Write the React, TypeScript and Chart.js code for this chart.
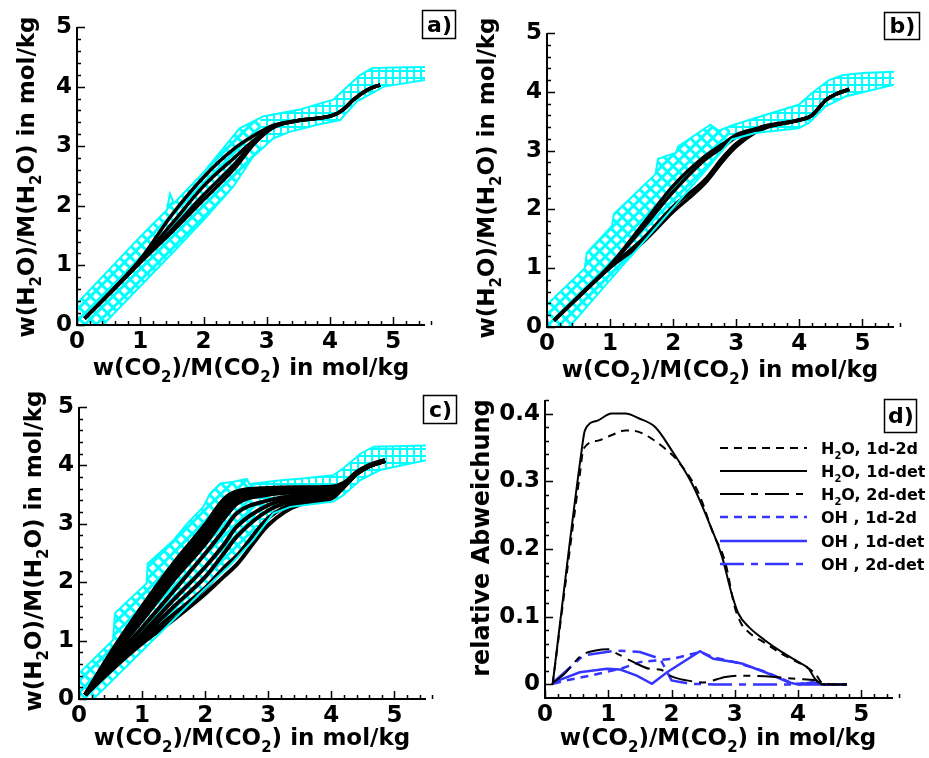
import React, { useEffect, useRef } from 'react';
import { Chart, registerables } from 'chart.js';
Chart.register(...registerables);

const W = 929;
const H = 758;
const FF = '"DejaVu Sans", "Liberation Sans", sans-serif';
const CYAN = '#00ffff';
const BLUE = '#3535ff';

type Part = [string, boolean];

// ---------- tick labels ----------
const XY_MAJOR = [0, 1, 2, 3, 4, 5];
const XY_LABELS = ['0', '1', '2', '3', '4', '5'];
const D_Y_MAJOR = [0, 0.1, 0.2, 0.3, 0.4];
const D_Y_LABELS = ['0', '0.1', '0.2', '0.3', '0.4'];

// ---------- titles / legend ----------
const X_TITLE: Part[] = [['w(CO', false], ['2', true], [')/M(CO', false], ['2', true], [') in mol/kg', false]];
const Y_TITLE: Part[] = [['w(H', false], ['2', true], ['O)/M(H', false], ['2', true], ['O) in mol/kg', false]];
const D_Y_TITLE: Part[] = [['relative Abweichung', false]];
const D_LEGEND: Part[][] = [
  [['H', false], ['2', true], ['O, 1d-2d', false]],
  [['H', false], ['2', true], ['O, 1d-det', false]],
  [['H', false], ['2', true], ['O, 2d-det', false]],
  [['OH , 1d-2d', false]],
  [['OH , 1d-det', false]],
  [['OH , 2d-det', false]],
];

// ---------- panel a ----------
const A_BAND_UP_X = [0, 0.5, 1.0, 1.42, 1.47, 1.53, 2.0, 2.57, 2.94, 3.5, 4.05, 4.21, 4.47, 4.66, 5.0, 5.5];
const A_BAND_UP_Y = [0.36, 0.92, 1.48, 1.93, 2.2, 2.04, 2.56, 3.3, 3.5, 3.61, 3.78, 3.94, 4.19, 4.31, 4.32, 4.33];
const A_BAND_LO_X = [0, 0.41, 1.0, 1.5, 2.0, 2.47, 2.78, 3.1, 3.36, 3.8, 4.16, 4.42, 4.85, 5.5];
const A_BAND_LO_Y = [-0.45, 0, 0.65, 1.2, 1.76, 2.32, 2.82, 3.13, 3.24, 3.36, 3.44, 3.75, 4.0, 4.11];
const A_LINE_X = [0.12, 0.5, 1.0, 1.5, 2.0, 2.5, 2.8, 3.1, 3.5, 4.05, 4.2, 4.37, 4.58, 4.79];
const A_LINE1_Y = [0.11, 0.52, 1.1, 1.85, 2.48, 2.97, 3.18, 3.35, 3.43, 3.52, 3.61, 3.78, 3.94, 4.03];
const A_LINE2_Y = [0.11, 0.52, 1.08, 1.7, 2.33, 2.82, 3.1, 3.33, 3.43, 3.52, 3.61, 3.78, 3.94, 4.03];
const A_LINE3_Y = [0.11, 0.51, 1.06, 1.6, 2.18, 2.71, 3.07, 3.32, 3.43, 3.52, 3.61, 3.78, 3.94, 4.03];
const A_LINE4_Y = [0.11, 0.51, 1.05, 1.56, 2.1, 2.64, 3.04, 3.31, 3.43, 3.52, 3.61, 3.78, 3.94, 4.03];

// ---------- panel b ----------
const B_BAND_UP_X = [0, 0.6, 0.63, 1.03, 1.06, 1.72, 1.76, 2.04, 2.08, 2.59, 2.72, 2.94, 3.47, 3.99, 4.2, 4.47, 4.68, 5.0, 5.5];
const B_BAND_UP_Y = [0.38, 1.0, 1.26, 1.72, 1.92, 2.6, 2.86, 2.96, 3.07, 3.44, 3.34, 3.43, 3.61, 3.78, 3.98, 4.2, 4.28, 4.32, 4.34];
const B_BAND_LO_X = [0, 0.41, 1.0, 1.5, 2.0, 2.43, 2.93, 3.3, 3.99, 4.15, 4.41, 4.73, 5.5];
const B_BAND_LO_Y = [-0.5, 0.07, 0.8, 1.41, 2.03, 2.56, 3.19, 3.3, 3.38, 3.47, 3.75, 3.92, 4.12];
const B_LINE_X = [0.11, 0.5, 1.0, 1.5, 2.0, 2.5, 2.8, 3.0, 3.3, 3.5, 4.0, 4.2, 4.42, 4.6, 4.79];
const B_LINE1_Y = [0.11, 0.52, 1.05, 1.72, 2.4, 2.9, 3.12, 3.27, 3.37, 3.43, 3.52, 3.6, 3.86, 3.97, 4.04];
const B_LINE2_Y = [0.11, 0.52, 1.04, 1.66, 2.3, 2.84, 3.07, 3.23, 3.36, 3.42, 3.52, 3.6, 3.86, 3.97, 4.04];
const B_LINE3_Y = [0.11, 0.51, 1.02, 1.48, 2.05, 2.5, 2.9, 3.12, 3.33, 3.41, 3.52, 3.6, 3.86, 3.97, 4.04];
const B_LINE4_Y = [0.11, 0.51, 1.01, 1.42, 1.96, 2.44, 2.84, 3.07, 3.31, 3.4, 3.52, 3.6, 3.86, 3.97, 4.04];

// ---------- panel c ----------
const C_BAND_UP_X = [0, 0.54, 0.57, 1.07, 1.09, 1.5, 1.71, 1.97, 2.08, 2.24, 2.45, 2.66, 2.7, 3.24, 3.5, 4.03, 4.19, 4.46, 4.67, 5.0, 5.5];
const C_BAND_UP_Y = [0.44, 1.01, 1.47, 1.98, 2.32, 2.72, 3.0, 3.29, 3.52, 3.69, 3.72, 3.77, 3.68, 3.75, 3.77, 3.83, 3.95, 4.2, 4.32, 4.33, 4.34];
const C_BAND_LO_X = [0, 0.23, 1.0, 1.92, 2.4, 2.76, 3.08, 3.35, 4.03, 4.19, 4.46, 4.77, 5.5];
const C_BAND_LO_Y = [-0.25, 0, 0.82, 1.81, 2.3, 2.72, 3.18, 3.29, 3.38, 3.49, 3.75, 3.92, 4.09];
const C_LINE_X = [0.1, 0.5, 1.0, 1.5, 2.0, 2.3, 2.5, 3.0, 3.5, 4.0, 4.2, 4.4, 4.6, 4.85];
const C_LINE1_Y = [0.07, 0.78, 1.58, 2.32, 2.98, 3.42, 3.55, 3.61, 3.62, 3.63, 3.7, 3.88, 4.0, 4.09];
const C_LINE2_Y = [0.07, 0.76, 1.52, 2.25, 2.9, 3.34, 3.5, 3.58, 3.61, 3.62, 3.69, 3.87, 3.99, 4.08];
const C_LINE3_Y = [0.07, 0.73, 1.46, 2.18, 2.82, 3.26, 3.45, 3.56, 3.59, 3.61, 3.68, 3.87, 3.99, 4.08];
const C_LINE4_Y = [0.07, 0.7, 1.4, 2.11, 2.74, 3.18, 3.4, 3.53, 3.57, 3.6, 3.67, 3.86, 3.99, 4.08];
const C_LINE5_Y = [0.07, 0.68, 1.35, 2.04, 2.66, 3.1, 3.35, 3.5, 3.55, 3.59, 3.66, 3.86, 3.99, 4.08];
const C_LINE6_Y = [0.07, 0.62, 1.22, 1.85, 2.49, 2.9, 3.18, 3.4, 3.5, 3.56, 3.66, 3.86, 3.99, 4.08];
const C_LINE7_Y = [0.07, 0.58, 1.12, 1.7, 2.26, 2.65, 2.95, 3.32, 3.47, 3.54, 3.65, 3.86, 3.99, 4.08];
const C_LINE8_Y = [0.07, 0.55, 1.05, 1.58, 2.09, 2.5, 2.78, 3.23, 3.43, 3.51, 3.65, 3.86, 3.99, 4.08];
const C_LINE9_Y = [0.07, 0.5, 1.0, 1.45, 1.9, 2.25, 2.45, 3.1, 3.38, 3.46, 3.64, 3.86, 3.99, 4.08];
const C_LINE10_Y = [0.07, 0.48, 0.95, 1.36, 1.8, 2.1, 2.3, 2.98, 3.33, 3.43, 3.63, 3.86, 3.99, 4.08];

// ---------- panel d ----------
const D_H2O_12_X = [0.12, 0.55, 0.61, 0.84, 1.05, 1.27, 1.48, 1.7, 1.9, 2.1, 2.43, 2.65, 2.85, 3.0, 3.1, 3.22, 3.5, 3.74, 4.11, 4.27, 4.4, 4.77];
const D_H2O_12_Y = [0.0, 0.31, 0.348, 0.36, 0.368, 0.375, 0.373, 0.362, 0.348, 0.33, 0.282, 0.225, 0.18, 0.114, 0.09, 0.077, 0.06, 0.045, 0.027, 0.016, 0.001, 0.0];
const D_H2O_1DET_X = [0.12, 0.58, 0.63, 0.84, 1.05, 1.27, 1.48, 1.74, 2.0, 2.32, 2.58, 2.8, 2.95, 3.06, 3.22, 3.48, 3.74, 4.01, 4.17, 4.27, 4.4, 4.77];
const D_H2O_1DET_Y = [0.0, 0.346, 0.375, 0.39, 0.4, 0.4, 0.393, 0.38, 0.346, 0.297, 0.242, 0.188, 0.134, 0.104, 0.085, 0.065, 0.048, 0.033, 0.023, 0.008, 0.0, 0.0];
const D_H2O_2DET_X = [0.12, 0.3, 0.58, 0.8, 1.0, 1.13, 1.4, 1.66, 1.82, 2.0, 2.24, 2.5, 2.85, 3.1, 3.48, 4.0, 4.27, 4.4, 4.77];
const D_H2O_2DET_Y = [0.002, 0.015, 0.043, 0.05, 0.052, 0.046, 0.033, 0.023, 0.022, 0.012, 0.006, 0.003, 0.011, 0.013, 0.012, 0.008, 0.006, 0.0, 0.0];
const D_OH_12_X = [0.13, 0.34, 0.71, 1.19, 1.5, 1.71, 2.03, 2.45, 2.66, 3.0, 3.48, 3.85, 4.0, 4.22, 4.4, 4.77];
const D_OH_12_Y = [0.001, 0.006, 0.013, 0.023, 0.033, 0.035, 0.038, 0.048, 0.04, 0.033, 0.019, 0.004, 0.001, 0.003, 0.0, 0.0];
const D_OH_1DET_X = [0.13, 0.55, 0.98, 1.19, 1.45, 1.69, 1.93, 2.45, 2.66, 2.98, 3.11, 3.48, 3.85, 4.0, 4.22, 4.4, 4.77];
const D_OH_1DET_Y = [0.003, 0.018, 0.023, 0.022, 0.013, 0.001, 0.018, 0.049, 0.038, 0.033, 0.031, 0.018, 0.003, 0.0, 0.003, 0.0, 0.0];
const D_OH_2DET_X = [0.13, 0.61, 1.13, 1.5, 1.82, 2.0, 2.29, 2.66, 3.5, 4.0, 4.77];
const D_OH_2DET_Y = [0.003, 0.043, 0.05, 0.048, 0.038, 0.006, 0.001, 0.0, 0.0, 0.0, 0.0];

// ---------- helpers ----------
const zip = (xs: number[], ys: number[]) => xs.map((x, i) => ({ x, y: ys[i] }));

function stepTicks(start: number, end: number, step: number) {
  const out: number[] = [];
  const n = Math.round((end - start) / step);
  for (let k = 0; k <= n; k++) out.push(Math.round((start + k * step) * 1e6) / 1e6);
  return out;
}

const near = (a: number, b: number) => Math.abs(a - b) < 1e-6;

function drawRich(ctx: CanvasRenderingContext2D, parts: Part[], x: number, y: number, size: number, rot = false, align: 'center' | 'left' = 'center') {
  ctx.save();
  ctx.translate(x, y);
  if (rot) ctx.rotate(-Math.PI / 2);
  const main = `bold ${size}px ${FF}`;
  const sub = `bold ${Math.round(size * 0.65)}px ${FF}`;
  let total = 0;
  const ws = parts.map(([t, s]) => {
    ctx.font = s ? sub : main;
    const w = ctx.measureText(t).width;
    total += w;
    return w;
  });
  let cx = align === 'center' ? -total / 2 : 0;
  ctx.fillStyle = '#000';
  ctx.textAlign = 'left';
  ctx.textBaseline = 'alphabetic';
  parts.forEach(([t, s], i) => {
    ctx.font = s ? sub : main;
    ctx.fillText(t, cx, s ? size * 0.3 : 0);
    cx += ws[i];
  });
  ctx.restore();
}

function makePattern(ctx: CanvasRenderingContext2D, rotate: boolean) {
  const size = rotate ? 8 : 7;
  const lw = rotate ? 3 : 2;
  const c = document.createElement('canvas');
  c.width = size;
  c.height = size;
  const g = c.getContext('2d')!;
  g.fillStyle = CYAN;
  g.fillRect(0, 0, size, lw);
  g.fillRect(0, 0, lw, size);
  const p = ctx.createPattern(c, 'repeat')!;
  if (rotate) p.setTransform(new DOMMatrix().rotateSelf(45));
  return p;
}

const bandPlugin = {
  id: 'bands',
  beforeDatasetsDraw(chart: any, _a: any, opts: any) {
    const bands = opts.bands || [];
    if (!bands.length) return;
    const ctx: CanvasRenderingContext2D = chart.ctx;
    const ca = chart.chartArea;
    const xs = chart.scales.x;
    const diag = makePattern(ctx, true);
    const sq = makePattern(ctx, false);
    for (const b of bands) {
      const up = chart.getDatasetMeta(b.upper).data;
      const lo = chart.getDatasetMeta(b.lower).data;
      const path = new Path2D();
      up.forEach((p: any, i: number) => (i ? path.lineTo(p.x, p.y) : path.moveTo(p.x, p.y)));
      for (let i = lo.length - 1; i >= 0; i--) path.lineTo(lo[i].x, lo[i].y);
      path.closePath();
      const sx = xs.getPixelForValue(b.split);
      ctx.save();
      ctx.beginPath();
      ctx.rect(ca.left, ca.top, sx - ca.left, ca.bottom - ca.top);
      ctx.clip();
      ctx.fillStyle = diag;
      ctx.fill(path);
      ctx.restore();
      ctx.save();
      ctx.beginPath();
      ctx.rect(sx, ca.top, ca.right - sx, ca.bottom - ca.top);
      ctx.clip();
      ctx.fillStyle = sq;
      ctx.fill(path);
      ctx.restore();
    }
  },
};

const axesPlugin = {
  id: 'axesDraw',
  afterDatasetsDraw(chart: any, _a: any, opts: any) {
    const ctx: CanvasRenderingContext2D = chart.ctx;
    const ca = chart.chartArea;
    const xs = chart.scales.x;
    const ys = chart.scales.y;
    ctx.save();
    ctx.strokeStyle = '#000';
    ctx.lineWidth = 1.5;
    ctx.beginPath();
    for (const t of xs.ticks) {
      const px = Math.round(xs.getPixelForValue(t.value)) + 0.5;
      const len = opts.majorX.some((m: number) => near(m, t.value)) ? 8 : 4;
      ctx.moveTo(px, ca.bottom);
      ctx.lineTo(px, ca.bottom - len);
    }
    for (const t of ys.ticks) {
      const py = Math.round(ys.getPixelForValue(t.value)) + 0.5;
      const len = opts.majorY.some((m: number) => near(m, t.value)) ? 8 : 4;
      ctx.moveTo(ca.left, py);
      ctx.lineTo(ca.left + len, py);
    }
    ctx.stroke();
    ctx.lineWidth = 2;
    ctx.beginPath();
    ctx.moveTo(ca.left, ca.top);
    ctx.lineTo(ca.left, ca.bottom);
    ctx.lineTo(ca.right, ca.bottom);
    ctx.stroke();
    ctx.restore();
  },
};

const textPlugin = {
  id: 'texts',
  afterDraw(chart: any, _a: any, opts: any) {
    const ctx: CanvasRenderingContext2D = chart.ctx;
    for (const t of opts.items || []) drawRich(ctx, t.parts, t.x, t.y, t.size, !!t.rot, t.align || 'center');
    const b = opts.box;
    if (b) {
      ctx.save();
      ctx.fillStyle = '#fff';
      ctx.fillRect(b.x, b.y, b.w, b.h);
      ctx.strokeStyle = '#000';
      ctx.lineWidth = 1.5;
      ctx.strokeRect(b.x + 0.5, b.y + 0.5, b.w, b.h);
      ctx.fillStyle = '#000';
      ctx.font = `bold 22px ${FF}`;
      ctx.textAlign = 'center';
      ctx.textBaseline = 'middle';
      ctx.fillText(b.label, b.x + b.w / 2 + 1, b.y + b.h / 2 + 2);
      ctx.restore();
    }
    const lg = opts.legend;
    if (lg) {
      const ds = chart.data.datasets;
      lg.rows.forEach((y: number, i: number) => {
        const d = ds[i];
        ctx.save();
        ctx.strokeStyle = d.borderColor;
        ctx.lineWidth = d.borderWidth;
        ctx.setLineDash(d.borderDash || []);
        ctx.beginPath();
        ctx.moveTo(lg.x0, y);
        ctx.lineTo(lg.x1, y);
        ctx.stroke();
        ctx.restore();
        drawRich(ctx, D_LEGEND[i], lg.tx, y + 6, 16, false, 'left');
      });
    }
  },
};

interface AxisSpec { min: number; max: number; minor: number; start: number; major: number[]; labels: string[] }
interface PanelSpec {
  area: { L: number; T: number; R: number; B: number };
  x: AxisSpec;
  y: AxisSpec;
  datasets: any[];
  bands: { upper: number; lower: number; split: number }[];
  texts: any[];
  box: any;
  legend?: any;
}

const bandDs = (xs: number[], ys: number[]) => ({
  data: zip(xs, ys), showLine: true, borderColor: CYAN, borderWidth: 2, pointRadius: 0, tension: 0,
});
const blackDs = (xs: number[], ys: number[], width = 3.5) => ({
  data: zip(xs, ys), showLine: true, borderColor: '#000', borderWidth: width, pointRadius: 0, cubicInterpolationMode: 'monotone',
});
const dDs = (xs: number[], ys: number[], color: string, dash: number[], width: number, smooth: boolean) => ({
  data: zip(xs, ys), showLine: true, borderColor: color, borderWidth: width, borderDash: dash, pointRadius: 0,
  ...(smooth ? { cubicInterpolationMode: 'monotone' } : { tension: 0 }),
});

const XY_AXIS_X: AxisSpec = { min: 0, max: 5.5, minor: 0.2, start: 0, major: XY_MAJOR, labels: XY_LABELS };
const XY_AXIS_Y: AxisSpec = { min: 0, max: 5, minor: 0.2, start: 0, major: XY_MAJOR, labels: XY_LABELS };

const DASH = [8, 6];
const DASHDOT = [24, 7, 7, 7];

const PANELS: PanelSpec[] = [
  {
    area: { L: 77, T: 27, R: 425, B: 325 },
    x: XY_AXIS_X, y: XY_AXIS_Y,
    datasets: [
      bandDs(A_BAND_UP_X, A_BAND_UP_Y), bandDs(A_BAND_LO_X, A_BAND_LO_Y),
      blackDs(A_LINE_X, A_LINE4_Y), blackDs(A_LINE_X, A_LINE3_Y), blackDs(A_LINE_X, A_LINE2_Y), blackDs(A_LINE_X, A_LINE1_Y),
    ],
    bands: [{ upper: 0, lower: 1, split: 2.9 }],
    texts: [
      { parts: X_TITLE, x: 251, y: 375, size: 23 },
      { parts: Y_TITLE, x: 34, y: 177, size: 23, rot: true },
    ],
    box: { x: 422, y: 10, w: 33, h: 28, label: 'a)' },
  },
  {
    area: { L: 547, T: 33, R: 894, B: 327 },
    x: XY_AXIS_X, y: XY_AXIS_Y,
    datasets: [
      bandDs(B_BAND_UP_X, B_BAND_UP_Y), bandDs(B_BAND_LO_X, B_BAND_LO_Y),
      blackDs(B_LINE_X, B_LINE4_Y), blackDs(B_LINE_X, B_LINE3_Y), blackDs(B_LINE_X, B_LINE2_Y), blackDs(B_LINE_X, B_LINE1_Y),
    ],
    bands: [{ upper: 0, lower: 1, split: 2.9 }],
    texts: [
      { parts: X_TITLE, x: 720, y: 377, size: 23 },
      { parts: Y_TITLE, x: 494, y: 178, size: 23, rot: true },
    ],
    box: { x: 884, y: 12, w: 35, h: 27, label: 'b)' },
  },
  {
    area: { L: 79, T: 407, R: 426, B: 699 },
    x: XY_AXIS_X, y: XY_AXIS_Y,
    datasets: [
      bandDs(C_BAND_UP_X, C_BAND_UP_Y), bandDs(C_BAND_LO_X, C_BAND_LO_Y),
      blackDs(C_LINE_X, C_LINE10_Y, 4), blackDs(C_LINE_X, C_LINE9_Y, 4), blackDs(C_LINE_X, C_LINE8_Y, 4),
      blackDs(C_LINE_X, C_LINE7_Y, 4), blackDs(C_LINE_X, C_LINE6_Y, 4), blackDs(C_LINE_X, C_LINE5_Y, 4.5),
      blackDs(C_LINE_X, C_LINE4_Y, 4.5), blackDs(C_LINE_X, C_LINE3_Y, 4.5), blackDs(C_LINE_X, C_LINE2_Y, 4.5), blackDs(C_LINE_X, C_LINE1_Y, 4.5),
    ],
    bands: [{ upper: 0, lower: 1, split: 2.8 }],
    texts: [
      { parts: X_TITLE, x: 252, y: 745, size: 23 },
      { parts: Y_TITLE, x: 41, y: 551, size: 23, rot: true },
    ],
    box: { x: 423, y: 395, w: 33, h: 28, label: 'c)' },
  },
  {
    area: { L: 545, T: 400, R: 893, B: 698 },
    x: XY_AXIS_X,
    y: { min: -0.02, max: 0.42, minor: 0.02, start: 0, major: D_Y_MAJOR, labels: D_Y_LABELS },
    datasets: [
      dDs(D_H2O_12_X, D_H2O_12_Y, '#000', DASH, 2, true),
      dDs(D_H2O_1DET_X, D_H2O_1DET_Y, '#000', [], 2, true),
      dDs(D_H2O_2DET_X, D_H2O_2DET_Y, '#000', DASHDOT, 2, true),
      dDs(D_OH_12_X, D_OH_12_Y, BLUE, DASH, 2.5, false),
      dDs(D_OH_1DET_X, D_OH_1DET_Y, BLUE, [], 2.5, false),
      dDs(D_OH_2DET_X, D_OH_2DET_Y, BLUE, DASHDOT, 2.5, false),
    ],
    bands: [],
    texts: [
      { parts: X_TITLE, x: 718, y: 745, size: 23 },
      { parts: D_Y_TITLE, x: 489, y: 538, size: 24, rot: true },
    ],
    box: { x: 884, y: 399, w: 32, h: 33, label: 'd)' },
    legend: { x0: 720, x1: 807, tx: 821, rows: [448, 471, 494, 517, 541, 564] },
  },
];

function buildConfig(s: PanelSpec): any {
  const { L, T, R, B } = s.area;
  const labelOf = (ax: AxisSpec, v: number) => {
    const i = ax.major.findIndex((m) => near(m, v));
    return i >= 0 ? ax.labels[i] : '';
  };
  const tickFont = { family: FF, size: 23, weight: 'bold' };
  return {
    type: 'scatter',
    data: { datasets: s.datasets },
    plugins: [bandPlugin, axesPlugin, textPlugin],
    options: {
      animation: false,
      responsive: false,
      events: [],
      layout: { padding: { left: 0, top: T, right: W - R, bottom: 0 } },
      plugins: {
        legend: { display: false },
        tooltip: { enabled: false },
        bands: { bands: s.bands },
        axesDraw: { majorX: s.x.major, majorY: s.y.major },
        texts: { items: s.texts, box: s.box, legend: s.legend },
      },
      scales: {
        x: {
          type: 'linear', min: s.x.min, max: s.x.max,
          grid: { display: false, drawTicks: false, tickLength: 0 },
          border: { display: false },
          afterBuildTicks: (sc: any) => { sc.ticks = stepTicks(s.x.start, s.x.max, s.x.minor).map((v) => ({ value: v })); },
          afterFit: (sc: any) => { sc.height = H - B; },
          ticks: { autoSkip: false, maxRotation: 0, minRotation: 0, padding: 3, color: '#000', font: tickFont,
            callback: (v: number) => labelOf(s.x, v) },
        },
        y: {
          type: 'linear', min: s.y.min, max: s.y.max,
          grid: { display: false, drawTicks: false, tickLength: 0 },
          border: { display: false },
          afterBuildTicks: (sc: any) => { sc.ticks = stepTicks(s.y.start, s.y.max, s.y.minor).filter((v) => v <= s.y.max + 1e-9).map((v) => ({ value: v })); },
          afterFit: (sc: any) => { sc.width = L; },
          ticks: { autoSkip: false, padding: 5, color: '#000', font: tickFont,
            callback: (v: number) => labelOf(s.y, v) },
        },
      },
    },
  };
}

function Panel({ spec }: { spec: PanelSpec }) {
  const ref = useRef<HTMLCanvasElement>(null);
  useEffect(() => {
    const chart = new Chart(ref.current!, buildConfig(spec));
    return () => chart.destroy();
  }, [spec]);
  return <canvas ref={ref} width={W} height={H} style={{ position: 'absolute', left: 0, top: 0, width: W, height: H }} />;
}

export default function App() {
  return (
    <div style={{ position: 'absolute', left: 0, top: 0, width: W, height: H, background: '#fff' }}>
      {PANELS.map((p, i) => (
        <Panel key={i} spec={p} />
      ))}
    </div>
  );
}
